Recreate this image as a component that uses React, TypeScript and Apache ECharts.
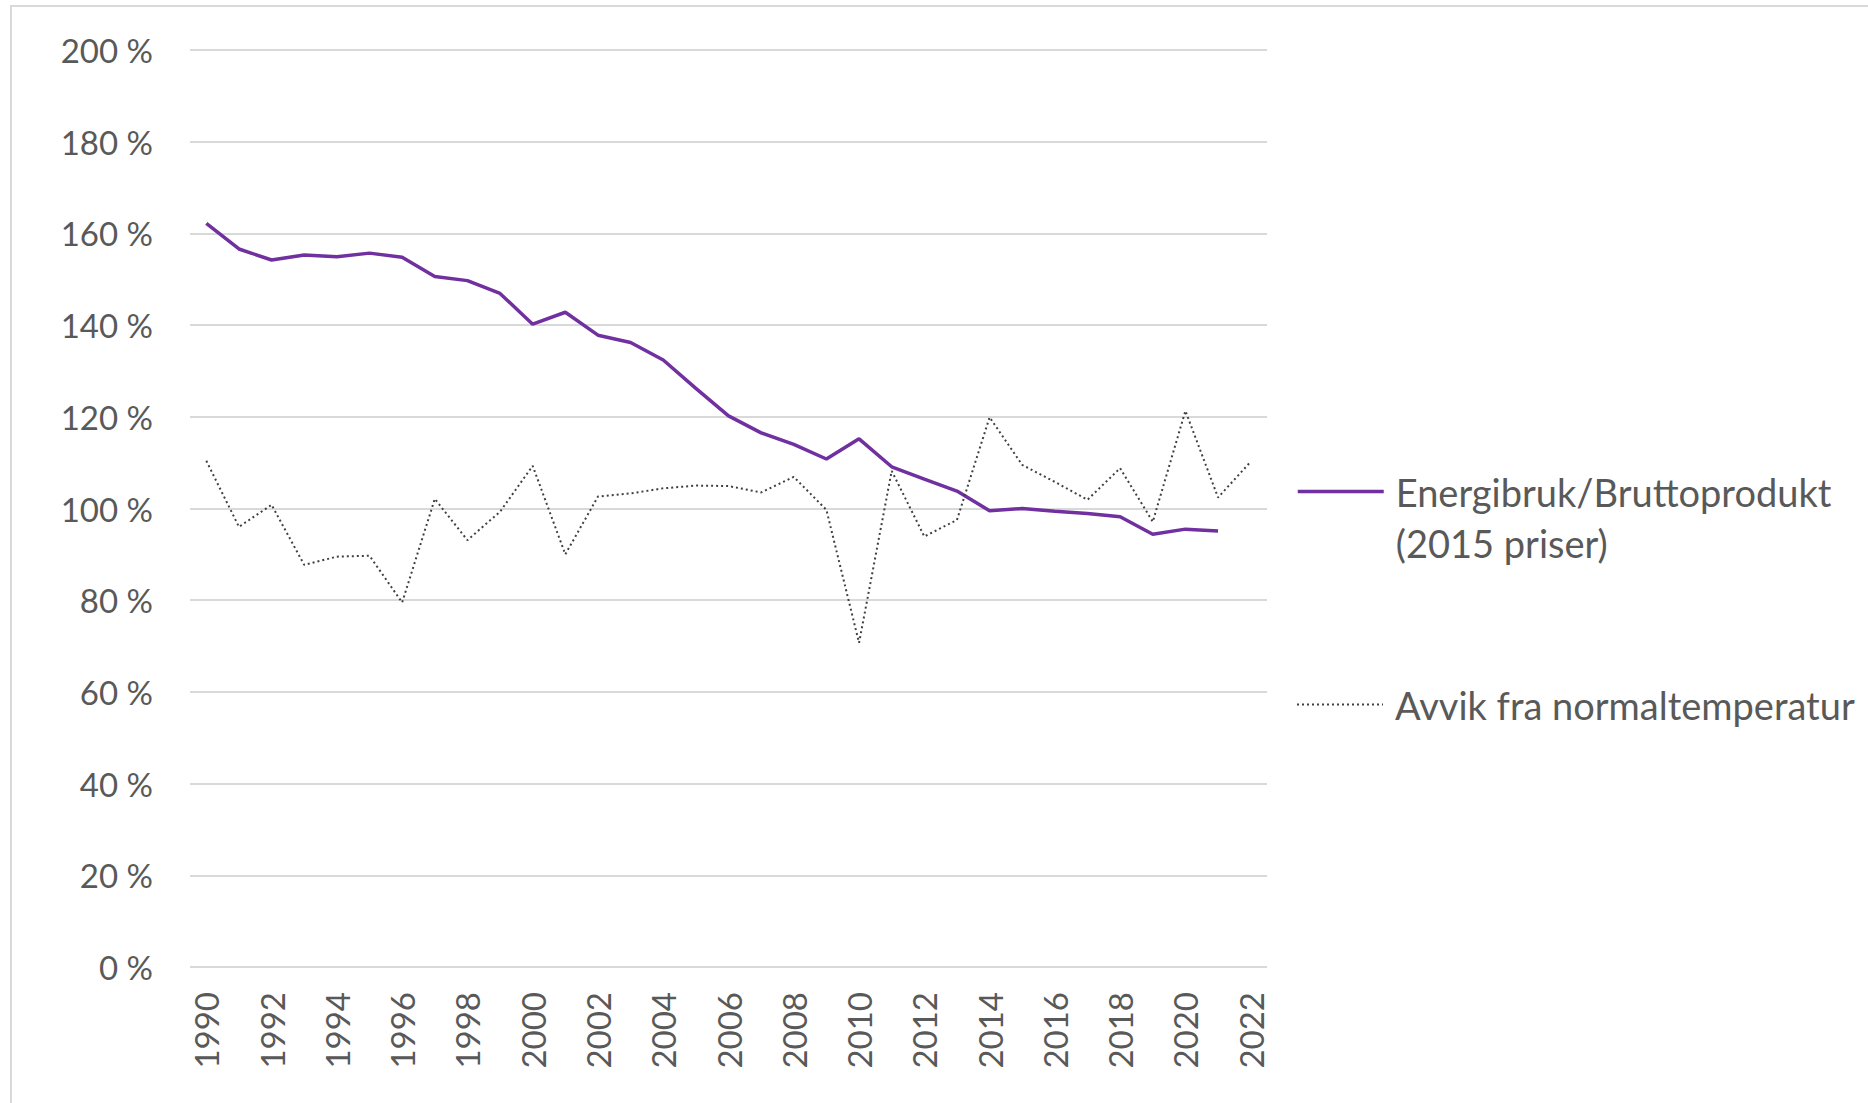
import React, { useEffect, useRef } from "react";
import * as echarts from "echarts";

const years: string[] = [
  "1990", "1991", "1992", "1993", "1994", "1995", "1996", "1997", "1998", "1999",
  "2000", "2001", "2002", "2003", "2004", "2005", "2006", "2007", "2008", "2009",
  "2010", "2011", "2012", "2013", "2014", "2015", "2016", "2017", "2018", "2019",
  "2020", "2021", "2022",
];

const energiPerBrutto: (number | null)[] = [
  162.2, 156.6, 154.2, 155.3, 154.9, 155.7, 154.8, 150.6, 149.7, 146.9,
  140.2, 142.8, 137.8, 136.2, 132.4, 126.2, 120.2, 116.5, 114.0, 110.8,
  115.2, 109.1, 106.4, 103.8, 99.5, 100.0, 99.4, 98.9, 98.2, 94.4,
  95.5, 95.1, null,
];

const avvikTemperatur: number[] = [
  110.4, 96.0, 100.8, 87.7, 89.5, 89.7, 79.5, 102.1, 93.1, 99.3,
  109.3, 90.0, 102.6, 103.3, 104.4, 105.0, 104.9, 103.5, 106.9, 99.7,
  70.7, 108.2, 93.9, 97.5, 119.9, 109.5, 105.8, 101.9, 108.8, 97.1,
  121.3, 102.4, 110.2,
];

const seriesNames = {
  energi: "Energibruk/Bruttoprodukt\n(2015 priser)",
  avvik: "Avvik fra normaltemperatur",
};

const FONT = "Lato";
const TEXT_COLOR = "#595959";

export default function App() {
  const ref = useRef<HTMLDivElement>(null);

  useEffect(() => {
    document.body.style.margin = "0";
    if (!ref.current) return;
    const chart = echarts.init(ref.current, null, { renderer: "svg" });
    const legendText = {
      fontFamily: FONT,
      fontSize: 38,
      color: TEXT_COLOR,
      lineHeight: 51,
      padding: [0, 0, 0, 7],
    };
    chart.setOption({
      animation: false,
      backgroundColor: "#ffffff",
      textStyle: { fontFamily: FONT },
      grid: { left: 190, right: 601, top: 50, bottom: 136, containLabel: false },
      graphic: [
        {
          type: "rect",
          shape: { x: 11, y: 6, width: 1900, height: 1200 },
          style: { fill: "none", stroke: "#d9d9d9", lineWidth: 2 },
          silent: true,
        },
      ],
      legend: [
        {
          data: [seriesNames.energi],
          orient: "vertical",
          left: 1296,
          top: 415,
          padding: 0,
          itemWidth: 86,
          itemHeight: 14,
          itemStyle: { opacity: 0 },
          lineStyle: { width: 3.5 },
          formatter: (name: string) => "\n" + name,
          textStyle: legendText,
        },
        {
          data: [seriesNames.avvik],
          orient: "vertical",
          left: 1296,
          top: 679,
          padding: 0,
          itemWidth: 86,
          itemHeight: 14,
          itemStyle: { opacity: 0 },
          lineStyle: { width: 2 },
          textStyle: legendText,
        },
      ],
      xAxis: {
        type: "category",
        data: years,
        boundaryGap: true,
        axisLine: { show: false },
        axisTick: { show: false },
        axisLabel: {
          interval: 1,
          rotate: 90,
          margin: 25,
          fontFamily: FONT,
          fontSize: 33,
          color: TEXT_COLOR,
        },
        splitLine: { show: false },
      },
      yAxis: {
        type: "value",
        min: 0,
        max: 200,
        interval: 20,
        axisLine: { show: false },
        axisTick: { show: false },
        axisLabel: {
          formatter: "{value} %",
          margin: 37,
          fontFamily: FONT,
          fontSize: 33,
          color: TEXT_COLOR,
        },
        splitLine: { lineStyle: { color: "#d9d9d9", width: 2 } },
      },
      series: [
        {
          name: seriesNames.energi,
          type: "line",
          data: energiPerBrutto,
          symbol: "none",
          connectNulls: false,
          lineStyle: { color: "#7030a0", width: 3.5 },
          itemStyle: { color: "#7030a0" },
        },
        {
          name: seriesNames.avvik,
          type: "line",
          data: avvikTemperatur,
          symbol: "none",
          lineStyle: { color: "#404040", width: 2, type: [2, 3] },
          itemStyle: { color: "#404040" },
        },
      ],
    });
    return () => chart.dispose();
  }, []);

  return <div ref={ref} style={{ width: 1868, height: 1103 }} />;
}
